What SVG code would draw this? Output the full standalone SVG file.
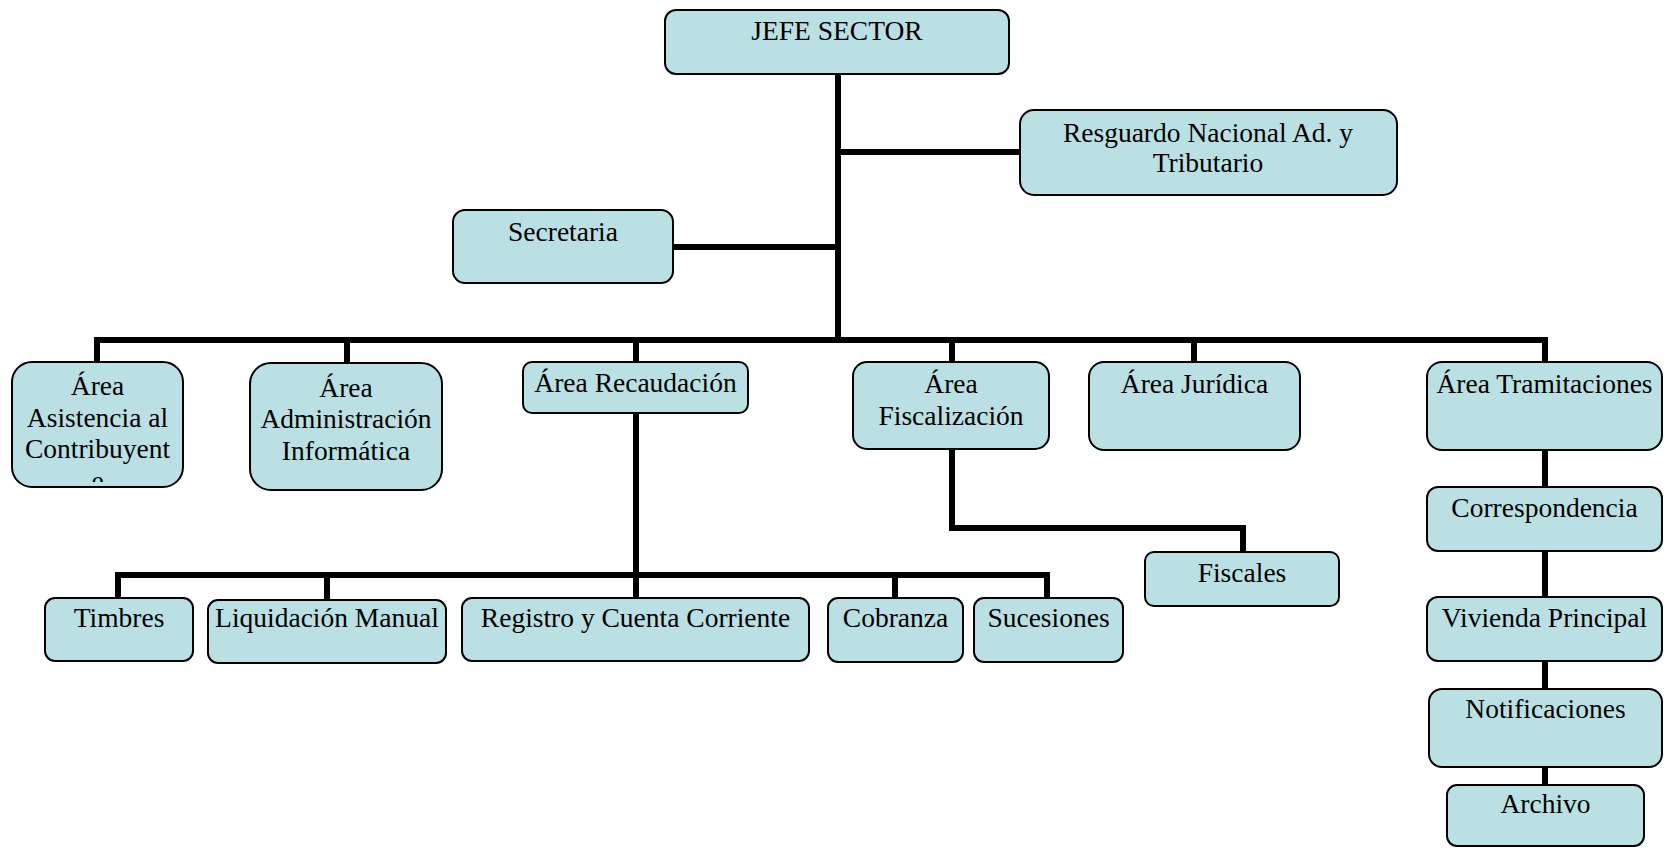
<svg xmlns="http://www.w3.org/2000/svg" width="1675" height="848" viewBox="0 0 1675 848">
<style>
.box{fill:#BAE0E3;stroke:#000;stroke-width:2}
.t{font-family:"Liberation Serif","Times New Roman",serif;font-size:27.5px;fill:#000;text-anchor:middle}
.c{fill:none;stroke:#000;stroke-width:6;stroke-linejoin:miter}
</style>
<defs>
<clipPath id="clipAsis"><rect x="12" y="362" width="171" height="120"/></clipPath>
</defs>
<rect width="1675" height="848" fill="#fff"/>
<g id="connectors">
<path class="c" d="M838 74 V340"/>
<path class="c" d="M838 152 H1020"/>
<path class="c" stroke-width="5" d="M673 247 H838"/>
<path class="c" d="M97 362 V340 H1545 V362"/>
<path class="c" d="M347 340 V363"/>
<path class="c" d="M636 340 V362"/>
<path class="c" d="M952 340 V362"/>
<path class="c" d="M1194 340 V362"/>
<path class="c" d="M636 413 V598"/>
<path class="c" d="M118 598 V575 H1047 V598"/>
<path class="c" d="M327 575 V600"/>
<path class="c" d="M895 575 V598"/>
<path class="c" d="M952 449 V528 H1243 V552"/>
<path class="c" d="M1545 450 V487"/>
<path class="c" d="M1545 551 V597"/>
<path class="c" d="M1545 661 V689"/>
<path class="c" d="M1545 767 V785"/>
</g>
<g id="jefe"><rect class="box" x="665" y="10" width="344" height="64" rx="11"/><text class="t" x="837" y="40">JEFE SECTOR</text></g>
<g id="resguardo"><rect class="box" x="1020" y="110" width="377" height="85" rx="14"/><text class="t" x="1208" y="142">Resguardo Nacional Ad. y</text><text class="t" x="1208" y="172">Tributario</text></g>
<g id="secretaria"><rect class="box" x="453" y="210" width="220" height="73" rx="12"/><text class="t" x="563" y="241">Secretaria</text></g>
<g id="asistencia"><rect class="box" x="12" y="362" width="171" height="125" rx="20"/><g clip-path="url(#clipAsis)"><text class="t" x="97.5" y="395">Área</text><text class="t" x="97.5" y="427">Asistencia al</text><text class="t" x="97.5" y="458">Contribuyent</text><text class="t" x="97.5" y="490">e</text></g></g>
<g id="administracion"><rect class="box" x="250" y="363" width="192" height="127" rx="21"/><text class="t" x="346" y="397">Área</text><text class="t" x="346" y="428">Administración</text><text class="t" x="346" y="460">Informática</text></g>
<g id="recaudacion"><rect class="box" x="523" y="362" width="225" height="51" rx="9"/><text class="t" x="635.5" y="392">Área Recaudación</text></g>
<g id="fiscalizacion"><rect class="box" x="853" y="362" width="196" height="87" rx="14"/><text class="t" x="951" y="393">Área</text><text class="t" x="951" y="425">Fiscalización</text></g>
<g id="juridica"><rect class="box" x="1089" y="362" width="211" height="88" rx="15"/><text class="t" x="1194.5" y="393">Área Jurídica</text></g>
<g id="tramitaciones"><rect class="box" x="1427" y="362" width="235" height="88" rx="15"/><text class="t" x="1544.5" y="393">Área Tramitaciones</text></g>
<g id="timbres"><rect class="box" x="45" y="598" width="148" height="63" rx="10"/><text class="t" x="119" y="627">Timbres</text></g>
<g id="liquidacion"><rect class="box" x="208" y="600" width="238" height="63" rx="10"/><text class="t" x="327" y="627">Liquidación Manual</text></g>
<g id="registro"><rect class="box" x="462" y="598" width="347" height="63" rx="10"/><text class="t" x="635.5" y="627">Registro y Cuenta Corriente</text></g>
<g id="cobranza"><rect class="box" x="828" y="598" width="135" height="64" rx="10"/><text class="t" x="895.5" y="627">Cobranza</text></g>
<g id="sucesiones"><rect class="box" x="974" y="598" width="149" height="64" rx="10"/><text class="t" x="1048.5" y="627">Sucesiones</text></g>
<g id="fiscales"><rect class="box" x="1145" y="552" width="194" height="54" rx="9"/><text class="t" x="1242" y="582">Fiscales</text></g>
<g id="correspondencia"><rect class="box" x="1427" y="487" width="235" height="64" rx="11"/><text class="t" x="1544.5" y="517">Correspondencia</text></g>
<g id="vivienda"><rect class="box" x="1427" y="597" width="235" height="64" rx="11"/><text class="t" x="1544.5" y="627">Vivienda Principal</text></g>
<g id="notificaciones"><rect class="box" x="1429" y="689" width="233" height="78" rx="13"/><text class="t" x="1545.5" y="718">Notificaciones</text></g>
<g id="archivo"><rect class="box" x="1447" y="785" width="197" height="61" rx="10"/><text class="t" x="1545.5" y="813">Archivo</text></g>
</svg>
